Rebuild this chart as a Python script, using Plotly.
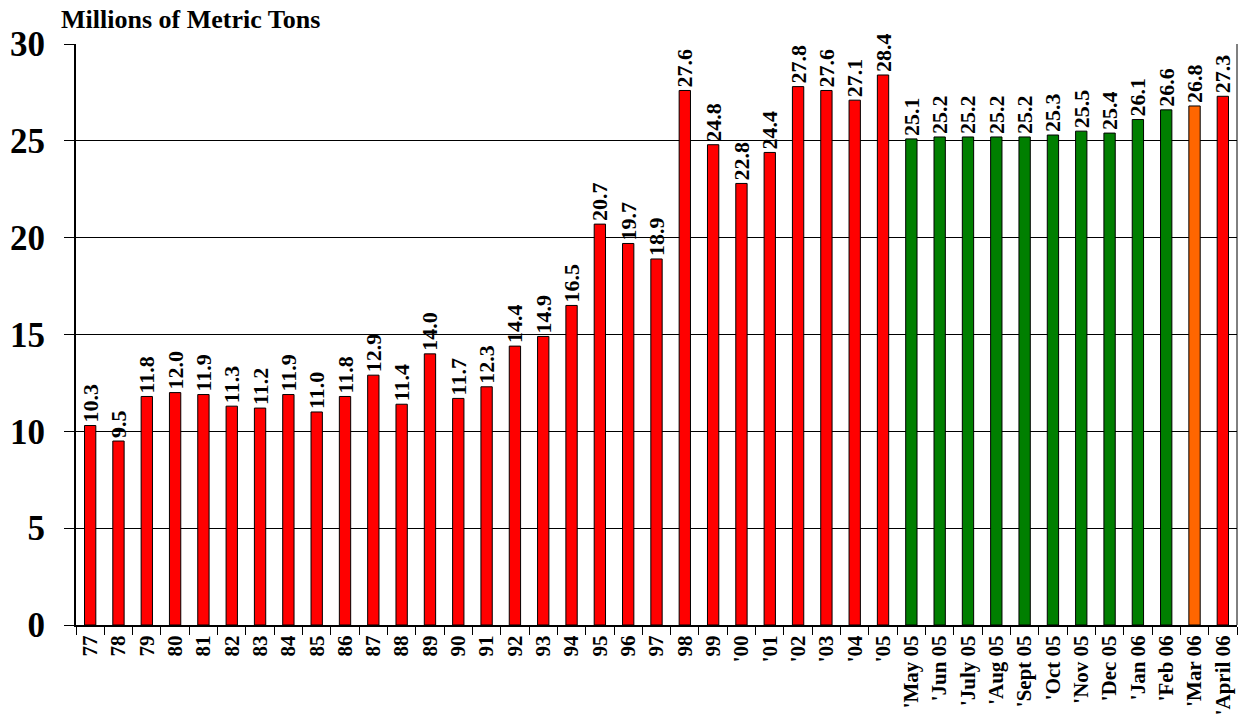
import plotly.graph_objects as go

categories = ["77", "78", "79", "80", "81", "82", "83", "84", "85", "86", "87", "88", "89",
              "90", "91", "92", "93", "94", "95", "96", "97", "98", "99", "'00", "'01", "'02",
              "'03", "'04", "'05", "'May 05", "'Jun 05", "'July 05", "'Aug 05", "'Sept 05",
              "'Oct 05", "'Nov 05", "'Dec 05", "'Jan 06", "'Feb 06", "'Mar 06", "'April 06"]
values = [10.3, 9.5, 11.8, 12.0, 11.9, 11.3, 11.2, 11.9, 11.0, 11.8, 12.9, 11.4, 14.0,
          11.7, 12.3, 14.4, 14.9, 16.5, 20.7, 19.7, 18.9, 27.6, 24.8, 22.8, 24.4, 27.8,
          27.6, 27.1, 28.4, 25.1, 25.2, 25.2, 25.2, 25.2, 25.3, 25.5, 25.4, 26.1, 26.6,
          26.8, 27.3]
groups = ["annual"] * 29 + ["monthly"] * 10 + ["estimate", "forecast"]
group_colors = {"annual": "#FF0000", "monthly": "#007F00", "estimate": "#FF6600", "forecast": "#FF0000"}
y_ticks = [0, 5, 10, 15, 20, 25, 30]

colors = [group_colors[g] for g in groups]
serif = "Liberation Serif, Times New Roman, serif"

fig = go.Figure(go.Bar(
    x=categories, y=values,
    marker=dict(color=colors, line=dict(color="#000000", width=1)),
    width=0.4,
    text=[f"{v:.1f}" for v in values],
    textposition="outside",
    textangle=-90,
    constraintext="none",
    cliponaxis=False,
    textfont=dict(family=serif, size=22, color="#000000", weight="bold"),
))

fig.update_layout(
    width=1241, height=721,
    margin=dict(l=76, r=4, t=44, b=96),
    plot_bgcolor="#FFFFFF", paper_bgcolor="#FFFFFF",
    showlegend=False,
    bargap=0.6,
    font=dict(family=serif, color="#000000"),
    annotations=[dict(
        text="<b>Millions of Metric Tons</b>", xref="paper", yref="paper",
        x=-0.015, y=1.0, yshift=25, xanchor="left", yanchor="middle",
        showarrow=False, font=dict(family=serif, size=26, color="#000000"))],
)

fig.update_xaxes(
    type="category", tickangle=-90,
    tickfont=dict(family=serif, size=21, color="#000000", weight="bold"),
    showline=True, linecolor="#000000", linewidth=2,
    ticks="outside", ticklen=8, tickcolor="#000000", tickson="boundaries",
    mirror=False, showgrid=False,
)
fig.update_yaxes(
    range=[0, 30], tickvals=y_ticks,
    tickfont=dict(family=serif, size=35, color="#000000", weight="bold"),
    showline=True, linecolor="#000000", linewidth=2,
    ticks="outside", ticklen=10, tickcolor="#000000", ticklabelstandoff=12,
    showgrid=True, gridcolor="#000000", gridwidth=1,
    zeroline=False,
)
fig.add_shape(type="line", xref="paper", yref="paper", x0=1, x1=1, y0=0, y1=1,
              line=dict(color="#000000", width=1))

fig.write_html("out.html", config={"displayModeBar": False},
               post_script="document.body.style.margin='0';document.body.style.overflow='hidden';")
